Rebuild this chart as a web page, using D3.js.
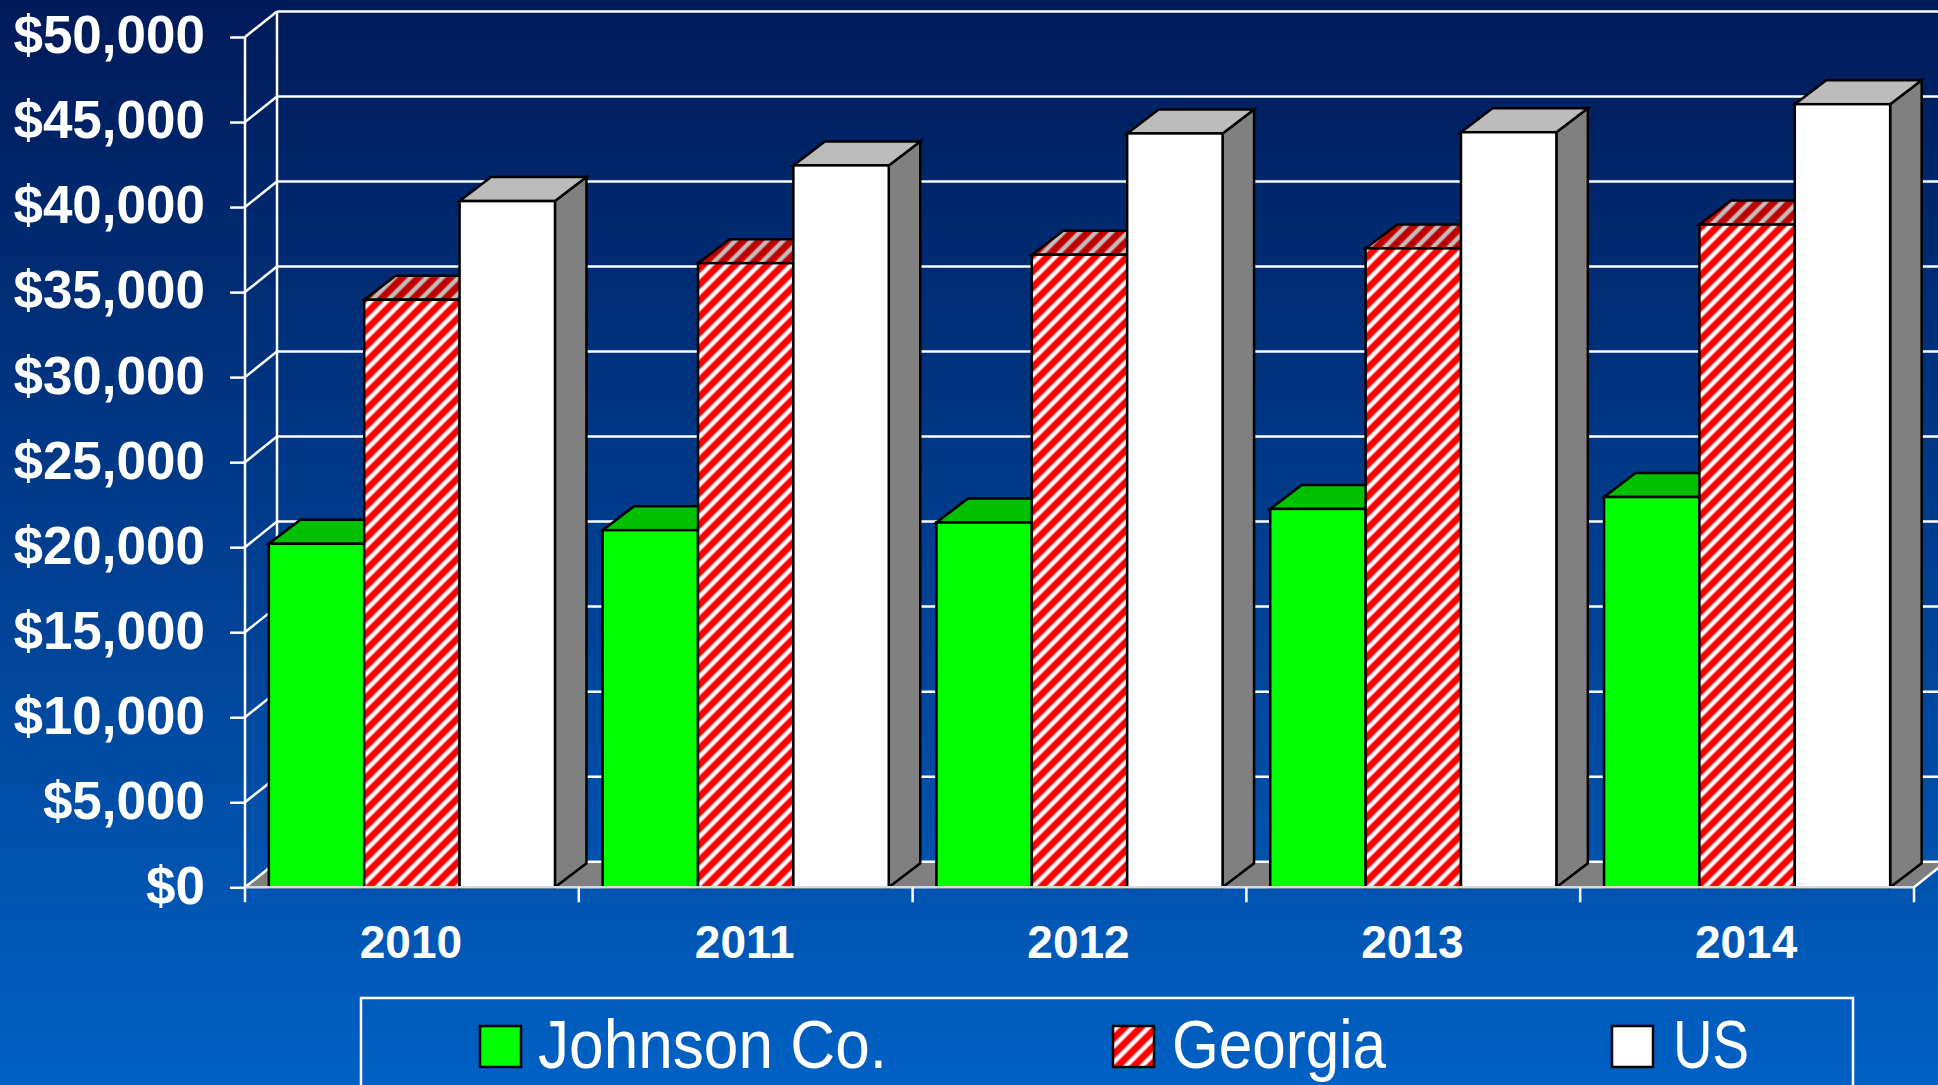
<!DOCTYPE html>
<html>
<head>
<meta charset="utf-8">
<script src="https://cdnjs.cloudflare.com/ajax/libs/d3/7.8.5/d3.min.js"></script>
<style>
  html, body { margin: 0; padding: 0; background: #005ebc; overflow: hidden; }
  svg { display: block; }
  text { fill: #fff; font-family: "Liberation Sans", Arial, sans-serif; }
</style>
</head>
<body>
<div id="graph"></div>
<script>
// Chart data
var years = ["2010", "2011", "2012", "2013", "2014"];
var seriesNames = ["Johnson Co.", "Georgia", "US"];
var johnson = [20200, 21000, 21450, 22250, 22950];
var georgia = [34550, 36700, 37200, 37570, 38970];
var us = [40350, 42450, 44330, 44400, 46050];
var yTicks = [0, 5000, 10000, 15000, 20000, 25000, 30000, 35000, 40000, 45000, 50000];

var width = 1938, height = 1085;

// Plot frame
var x0 = 245, x1 = 1914, y0 = 887.3, y1 = 37;
// Depth of the walls and of the bars
var wallX = 32, wallY = -25.6;
var barX = 31.5, barY = -24;

var svg = d3.select("#graph").append("svg").attr("width", width).attr("height", height);
var defs = svg.append("defs");

// Background gradient
var grad = defs.append("linearGradient").attr("id", "bg")
  .attr("x1", 0).attr("y1", 0).attr("x2", 0).attr("y2", 1);
grad.append("stop").attr("offset", "0%").attr("stop-color", "#001a59");
grad.append("stop").attr("offset", "100%").attr("stop-color", "#0061c4");
svg.append("rect").attr("width", width).attr("height", height).attr("fill", "url(#bg)");

// Hatches, the soft edge is a wider stripe under the main one
function hatch(id, back, soft, stripe) {
  var p = defs.append("pattern").attr("id", id)
    .attr("patternUnits", "userSpaceOnUse")
    .attr("width", 16).attr("height", 16);
  var d = "M-4,4L4,-4M-4,20L20,-4M12,20L20,12";
  p.append("rect").attr("width", 16).attr("height", 16).attr("fill", back);
  p.append("path").attr("d", d).attr("stroke", soft).attr("stroke-width", 5.4).attr("fill", "none");
  p.append("path").attr("d", d).attr("stroke", stripe).attr("stroke-width", 3.2).attr("fill", "none");
}
hatch("hatchFront", "#ff0000", "#ff9090", "#ffffff");
hatch("hatchTop", "#c00000", "#c46060", "#c0c0c0");

var fills = [
  { front: "#00ff00", top: "#00c000", side: "#00a000" },
  { front: "url(#hatchFront)", top: "url(#hatchTop)", side: "#a00000" },
  { front: "#ffffff", top: "#bcbcbc", side: "#808080" }
];

// Scales
var x = d3.scaleBand().domain(years).range([x0, x1]).paddingInner(0).paddingOuter(0);
var y = d3.scaleLinear().domain([0, 50000]).range([y0, y1]);
var seriesBand = d3.scaleBand().domain(seriesNames)
  .range([0, x.bandwidth()]).paddingInner(0).paddingOuter(0.25);

var values = [johnson, georgia, us];

// Floor
svg.append("path")
  .attr("d", "M" + x0 + "," + y0 + "L" + (x0 + wallX) + "," + (y0 + wallY) + "L" + (x1 + wallX) + "," + (y0 + wallY) + "L" + x1 + "," + y0 + "Z")
  .attr("fill", "#808080");

// Back wall lines and side wall lines
var walls = svg.append("g").attr("stroke", "#fff").attr("stroke-width", 2.5).attr("fill", "none");
walls.selectAll(".back").data(yTicks).enter().append("line")
  .attr("class", "back")
  .attr("x1", x0 + wallX).attr("x2", x1 + wallX)
  .attr("y1", function(d) { return y(d) + wallY; })
  .attr("y2", function(d) { return y(d) + wallY; });
walls.selectAll(".side").data(yTicks).enter().append("line")
  .attr("class", "side")
  .attr("x1", x0).attr("x2", x0 + wallX)
  .attr("y1", function(d) { return y(d); })
  .attr("y2", function(d) { return y(d) + wallY; });
walls.append("line")
  .attr("x1", x0 + wallX).attr("x2", x0 + wallX)
  .attr("y1", y(50000) + wallY).attr("y2", y(0) + wallY);
walls.append("line")
  .attr("x1", x1).attr("x2", x1 + wallX)
  .attr("y1", y0).attr("y2", y0 + wallY);

// Bars, left to right so that each one covers the side of the last
var bars = svg.append("g").attr("stroke", "#000").attr("stroke-width", 2.5).attr("stroke-linejoin", "miter");
years.forEach(function(year, i) {
  seriesNames.forEach(function(name, s) {
    var left = x(year) + seriesBand(name);
    var right = left + seriesBand.bandwidth();
    var top = y(values[s][i]);
    var g = bars.append("g");
    g.append("path")
      .attr("d", "M" + right + "," + top + "L" + (right + barX) + "," + (top + barY) + "L" + (right + barX) + "," + (y0 + barY) + "L" + right + "," + y0 + "Z")
      .attr("fill", fills[s].side);
    g.append("path")
      .attr("d", "M" + left + "," + top + "L" + (left + barX) + "," + (top + barY) + "L" + (right + barX) + "," + (top + barY) + "L" + right + "," + top + "Z")
      .attr("fill", fills[s].top);
    g.append("rect")
      .attr("x", left).attr("y", top)
      .attr("width", right - left).attr("height", y0 - top)
      .attr("fill", fills[s].front);
  });
});

// Y axis
var yAxis = svg.append("g").attr("transform", "translate(" + x0 + ",0)")
  .call(d3.axisLeft(y).tickValues(yTicks).tickSize(15).tickPadding(25)
    .tickFormat(function(d) { return "$" + d3.format(",")(d); }));
yAxis.selectAll("line").attr("stroke", "#fff").attr("stroke-width", 2.5);
yAxis.select(".domain").attr("stroke", "#fff").attr("stroke-width", 2.5).attr("d", "M0," + y1 + "V" + (y0 + 15));
yAxis.selectAll("text")
  .style("font-size", "53px").style("font-weight", "bold")
  .attr("dy", "0.3em");

// X axis, ticks sit between the years
var xAxis = svg.append("g").attr("transform", "translate(0," + y0 + ")")
  .call(d3.axisBottom(x).tickSize(0).tickPadding(50));
xAxis.select(".domain").attr("stroke", "#d9d9d9").attr("stroke-width", 2.5).attr("d", "M" + x0 + ",0H" + x1);
xAxis.selectAll("text")
  .style("font-size", "46px").style("font-weight", "bold")
  .attr("y", 71).attr("dy", 0).attr("dx", -1);
xAxis.selectAll(".sep").data(years).enter().append("line")
  .attr("class", "sep")
  .attr("x1", function(d) { return x(d) + x.bandwidth(); })
  .attr("x2", function(d) { return x(d) + x.bandwidth(); })
  .attr("y1", 0).attr("y2", 15)
  .attr("stroke", "#fff").attr("stroke-width", 2.5);

// Legend
var legendItems = [
  { swatch: 480, label: 538, w: 349 },
  { swatch: 1113, label: 1172, w: 214 },
  { swatch: 1612, label: 1673, w: 76 }
];
var legend = svg.append("g");
legend.append("rect")
  .attr("x", 361).attr("y", 998).attr("width", 1492).attr("height", 120)
  .attr("fill", "none").attr("stroke", "#fff").attr("stroke-width", 2.5);
seriesNames.forEach(function(name, s) {
  legend.append("rect")
    .attr("x", legendItems[s].swatch).attr("y", 1026).attr("width", 41).attr("height", 41)
    .attr("fill", fills[s].front).attr("stroke", "#000").attr("stroke-width", 2.5);
  legend.append("text")
    .attr("x", legendItems[s].label).attr("y", 1068)
    .attr("textLength", legendItems[s].w).attr("lengthAdjust", "spacingAndGlyphs")
    .style("font-family", '"Liberation Sans Narrow", "Liberation Sans", Arial, sans-serif')
    .style("font-size", "69px")
    .text(name);
});
</script>
</body>
</html>
